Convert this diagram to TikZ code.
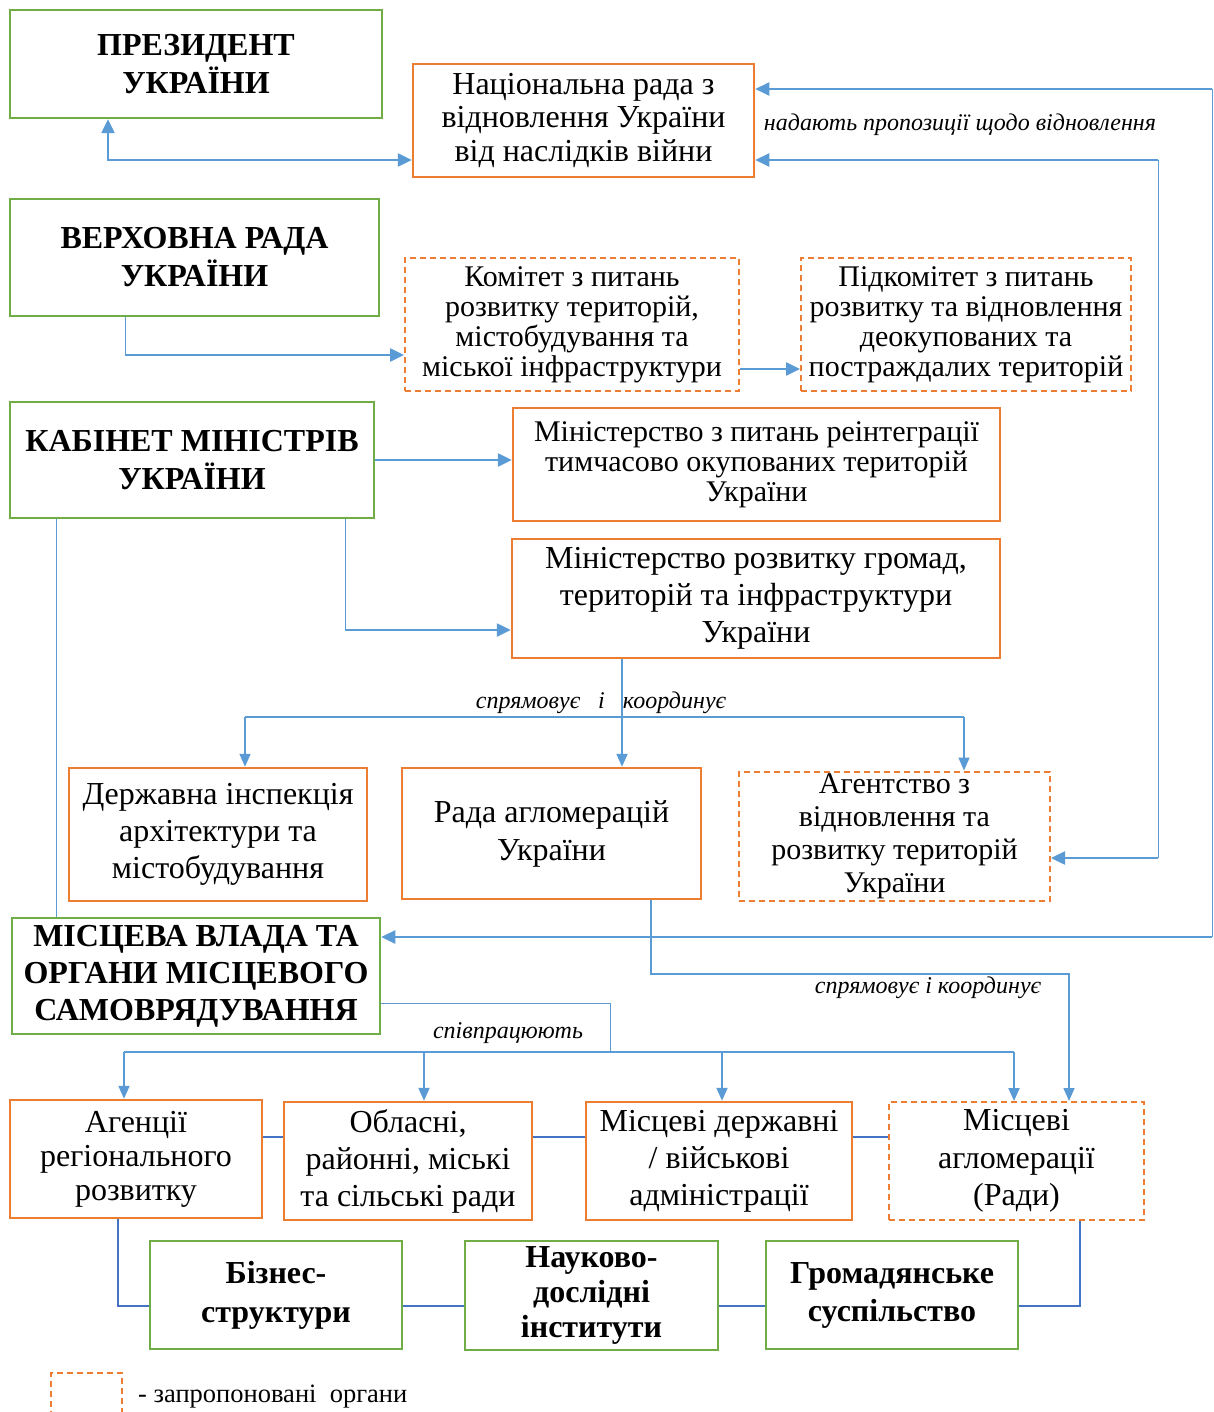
\documentclass[tikz,border=0pt]{standalone}
\usepackage{fontspec}
\setmainfont{Liberation Serif}
\usetikzlibrary{arrows.meta}
\definecolor{gr}{HTML}{70AD47}
\definecolor{orn}{HTML}{ED7D31}
\definecolor{bl}{HTML}{5B9BD5}
\definecolor{dbl}{HTML}{4472C4}
\newcommand\fsz[2]{\fontsize{#1}{#2}\selectfont}
\begin{document}
\begin{tikzpicture}[x=1pt,y=-1pt,
  gbox/.style={draw=gr, line width=2.5pt, inner sep=0pt, align=center},
  obox/.style={draw=orn, line width=2.5pt, inner sep=0pt, align=center},
  dbox/.style={draw=orn, line width=2pt, dash pattern=on 6pt off 4pt, inner sep=0pt, align=center},
  thinl/.style={draw=bl, line width=1pt},
  tip/.style={-{Triangle[length=14pt,width=13pt]}},
  thickarr/.style={draw=bl, line width=2.5pt, tip},
  medarr/.style={draw=bl, line width=2pt, -{Triangle[length=13pt,width=11pt]}},
  thinarr/.style={draw=bl, line width=1.5pt, -{Triangle[length=13pt,width=11pt]}},
  link/.style={draw=dbl, line width=2.5pt},
  lbl/.style={font=\fsz{24}{28}\itshape, inner sep=0pt}
]
\useasboundingbox (0,0) rectangle (1214,1412);
\fill[white] (0,0) rectangle (1214,1412);

% nodes
\node[gbox, minimum width=372pt, minimum height=108pt, font=\fsz{32}{38}\bfseries] (pres) at (196,64) {ПРЕЗИДЕНТ\\УКРАЇНИ};
\node[obox, minimum width=341pt, minimum height=113pt, font=\fsz{32}{33.5}] (nat) at (583.5,120.5) {Національна рада з\\відновлення України\\від наслідків війни};
\node[gbox, minimum width=369pt, minimum height=117pt, font=\fsz{32}{38}\bfseries] (verh) at (194.5,257.5) {ВЕРХОВНА РАДА\\УКРАЇНИ};
\node[dbox, minimum width=334pt, minimum height=133pt, font=\fsz{30}{30}] (kom) at (572,324.5) {Комітет з питань\\розвитку територій,\\містобудування та\\міської інфраструктури};
\node[dbox, minimum width=330pt, minimum height=133pt, font=\fsz{30}{30}] (pidkom) at (966,324.5) {Підкомітет з питань\\розвитку та відновлення\\деокупованих та\\постраждалих територій};
\node[gbox, minimum width=364pt, minimum height=116pt, font=\fsz{32}{38}\bfseries] (kab) at (192,460) {КАБІНЕТ МІНІСТРІВ\\УКРАЇНИ};
\node[obox, minimum width=487pt, minimum height=113pt, font=\fsz{30}{30}] (minre) at (756.5,464.5) {Міністерство з питань реінтеграції\\тимчасово окупованих територій\\України};
\node[obox, minimum width=488pt, minimum height=119pt, font=\fsz{32}{37}] (mindev) at (756,598.5) {Міністерство розвитку громад,\\територій та інфраструктури\\України};
\node[obox, minimum width=298pt, minimum height=133pt, font=\fsz{32}{37}] (insp) at (218,834.5) {Державна інспекція\\архітектури та\\містобудування};
\node[obox, minimum width=299pt, minimum height=131pt, font=\fsz{32}{38}] (radaagl) at (551.5,833.5) {Рада агломерацій\\України};
\node[dbox, minimum width=311pt, minimum height=129pt, font=\fsz{30}{33}] (agency) at (894.5,836) {Агентство з\\відновлення та\\розвитку територій\\України};
\node[gbox, minimum width=368pt, minimum height=116pt, font=\fsz{32}{37}\bfseries] (local) at (196,976) {МІСЦЕВА ВЛАДА ТА\\ОРГАНИ МІСЦЕВОГО\\САМОВРЯДУВАННЯ};
\node[obox, minimum width=252pt, minimum height=118pt, font=\fsz{32}{34}] (agreg) at (136,1159) {Агенції\\регіонального\\розвитку};
\node[obox, minimum width=248pt, minimum height=118pt, font=\fsz{32}{37}] (oblasni) at (408,1161) {Обласні,\\районні, міські\\та сільські ради};
\node[obox, minimum width=266pt, minimum height=118pt, font=\fsz{32}{37}] (mdv) at (719,1161) {Місцеві державні\\/ військові\\адміністрації};
\node[dbox, minimum width=255pt, minimum height=118pt, font=\fsz{32}{37.5}] (magl) at (1016.5,1161) {Місцеві\\агломерації\\(Ради)};
\node[gbox, minimum width=252pt, minimum height=108pt, font=\fsz{32}{39}\bfseries] (biz) at (276,1295) {Бізнес-\\структури};
\node[gbox, minimum width=253pt, minimum height=109pt, font=\fsz{32}{35}\bfseries] (nauk) at (591.5,1295.5) {Науково-\\дослідні\\інститути};
\node[gbox, minimum width=252pt, minimum height=108pt, font=\fsz{32}{38}\bfseries] (grom) at (892,1295) {Громадянське\\суспільство};
\node[dbox, minimum width=71pt, minimum height=60pt] (leg) at (86.5,1403) {};
\node[anchor=west, inner sep=0pt, font=\fsz{26.5}{30}] (legtext) at (138,1397) {- запропоновані\ \ органи};

% connectors
\coordinate (c1) at (108,160);
\draw[draw=bl, line width=2.5pt, {Triangle[length=14pt,width=13pt]}-{Triangle[length=14pt,width=13pt]}] (pres.south -| c1) -- (c1) -- (nat.west |- c1);

\coordinate (r1) at (1212,89);
\coordinate (r2) at (1212,937);
\draw[thinl] (r1) -- (r2);
\draw[thickarr, line width=2pt] (r1) -- (nat.east |- r1);
\draw[thickarr] (r2) -- (local.east |- r2);
\node[lbl] (lblnat) at (960,125) {надають пропозиції щодо відновлення};

\coordinate (s1) at (1158,160);
\coordinate (s2) at (1158,858);
\draw[thinl] (s1) -- (s2);
\draw[thickarr, line width=2pt] (s1) -- (nat.east |- s1);
\draw[thickarr] (s2) -- (agency.east |- s2);

\coordinate (v1) at (125,355);
\draw[thinl] (verh.south -| v1) -- (v1);
\draw[thickarr] (v1) -- (kom.west |- v1);

\coordinate (k1) at (739,369);
\draw[thickarr] (kom.east |- k1) -- (pidkom.west |- k1);

\draw[thickarr] (kab.east) -- (minre.west |- kab.east);

\coordinate (m1) at (345,630);
\draw[thinl] (kab.south -| m1) -- (m1);
\draw[thickarr] (m1) -- (mindev.west |- m1);

\coordinate (l1) at (56,700);
\draw[thinl] (kab.south -| l1) -- (local.north -| l1);

\coordinate (d1) at (622,717);
\coordinate (d2) at (245,717);
\coordinate (d3) at (964,717);
\draw[medarr] (mindev.south -| d1) -- (radaagl.north -| d1);
\draw[thinl, line width=1.5pt] (d2) -- (d3);
\draw[thinarr] (d2) -- (insp.north -| d2);
\draw[thinarr] (d3) -- (agency.north -| d3);
\node[lbl] (lblsk1) at (601,703) {спрямовує\ \ \ і\ \ \ координує};

\coordinate (e1) at (651,974);
\coordinate (e2) at (1069,974);
\draw[thinarr] (radaagl.south -| e1) -- (e1) -- (e2) -- (magl.north -| e2);
\node[lbl] (lblsk2) at (928,988) {спрямовує і координує};

\coordinate (f1) at (610,1003);
\coordinate (f2) at (610,1052);
\coordinate (g1) at (124,1052);
\coordinate (g2) at (424,1052);
\coordinate (g3) at (722,1052);
\coordinate (g4) at (1014,1052);
\draw[thinl] (local.east |- f1) -- (f1) -- (f2);
\draw[thinl, line width=1.5pt] (g1) -- (g4);
\draw[medarr] (g1) -- (agreg.north -| g1);
\draw[medarr] (g2) -- (oblasni.north -| g2);
\draw[medarr] (g3) -- (mdv.north -| g3);
\draw[medarr] (g4) -- (magl.north -| g4);
\node[lbl] (lblsp) at (508,1033) {співпрацюють};

\coordinate (h) at (600,1137);
\draw[link] (agreg.east |- h) -- (oblasni.west |- h);
\draw[link] (oblasni.east |- h) -- (mdv.west |- h);
\draw[link] (mdv.east |- h) -- (magl.west |- h);

\coordinate (b1) at (118,1306);
\coordinate (b2) at (1080,1306);
\draw[link] (agreg.south -| b1) -- (b1) -- (biz.west |- b1);
\draw[link] (biz.east |- b1) -- (nauk.west |- b1);
\draw[link] (nauk.east |- b1) -- (grom.west |- b1);
\draw[link] (grom.east |- b1) -- (b2) -- (magl.south -| b2);
\end{tikzpicture}
\end{document}
